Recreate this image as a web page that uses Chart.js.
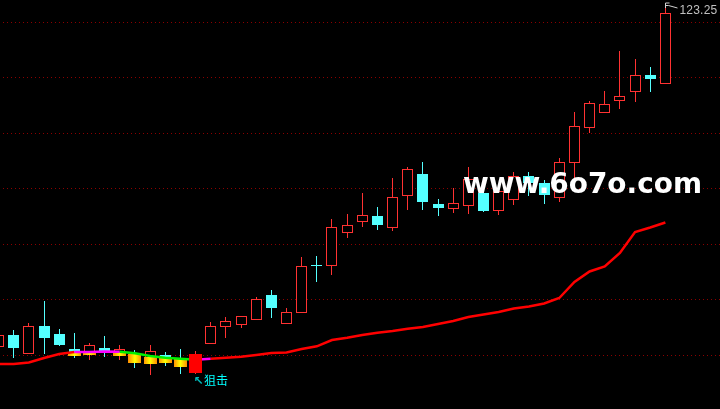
<!DOCTYPE html>
<html>
<head>
<meta charset="utf-8">
<style>
    html, body { margin: 0; padding: 0; background: #000; overflow: hidden; }
    canvas { display: block; }
</style>
<script src="https://cdn.jsdelivr.net/npm/chart.js@4"></script>
</head>
<body>
<canvas id="kline" width="720" height="409"></canvas>
<script>
const days = [-1,0,1,2,3,4,5,6,7,8,9,10,11,12,13,14,15,16,17,18,19,20,21,22,23,24,25,26,27,28,29,30,31,32,33,34,35,36,37,38,39,40,41,42,43];
const opens = [23.05,26.65,20.95,29.35,26.95,22.45,20.95,22.75,20.95,21.25,18.25,20.65,19.45,15.25,23.95,29.05,29.65,31.15,38.65,29.95,33.25,47.65,47.35,57.25,60.55,62.35,58.75,68.35,74.95,65.95,64.45,65.35,69.25,63.85,67.15,74.35,72.25,67.75,78.25,88.75,93.25,96.85,99.55,104.65,101.95];
const closes = [26.65,22.75,29.35,25.75,23.65,20.65,23.65,21.55,22.45,18.55,21.85,18.55,17.05,20.95,29.35,30.85,32.35,37.45,34.75,33.55,47.35,47.35,59.05,59.65,62.65,59.65,68.05,76.45,66.55,64.75,66.25,73.45,63.85,69.85,74.35,72.25,68.65,78.55,89.35,96.25,95.95,98.35,104.65,103.45,123.25];
const highs = [28.15,28.15,30.25,36.85,28.45,27.25,24.25,26.35,23.65,22.15,23.65,21.55,22.45,21.85,30.55,32.05,32.35,38.05,40.15,34.75,50.05,50.35,61.45,62.95,69.25,65.05,73.75,77.05,78.55,67.45,70.75,77.05,71.05,71.35,75.55,75.55,73.15,79.75,93.55,96.85,99.85,111.85,109.45,107.05,124.75];
const lows = [21.55,19.75,20.95,20.95,23.35,19.75,19.15,20.05,19.15,16.75,14.65,17.35,14.95,14.95,23.95,25.75,28.75,31.15,31.75,29.95,33.25,42.55,44.65,55.75,59.05,58.15,57.85,64.15,64.15,62.35,63.25,62.95,63.55,62.65,65.65,68.35,65.95,66.55,73.45,87.25,93.25,94.45,96.55,99.55,101.95];
const maLine = [17.95,17.95,18.4,19.75,20.95,21.55,21.55,21.7,21.64,21.16,20.35,19.84,19.54,19.24,19.54,19.84,20.14,20.65,21.25,21.4,22.45,23.26,25.15,25.84,26.65,27.34,27.85,28.54,29.05,29.95,30.85,32.05,32.8,33.55,34.6,35.2,36.1,37.75,42.55,45.7,47.2,51.25,57.55,58.9,60.4];

const glowDays = [4,5,6,7,8,9,10,11];
const glowTops = [21.55,21.55,21.85,21.55,20.95,20.05,19.75,19.45];
const glowBottoms = [20.35,20.65,21.25,20.35,18.25,17.95,18.25,17.05];
const solidDays = [12];
const magentaDays = [4,5,6,12];
const greenDays = [7,8,9,10,11];
const gridPrices = [120.55,103.9,87.25,70.6,53.95,37.3,20.65];

const lastPriceLabel = "123.25";
const signalLabel = "狙击";
const watermark = "www.6o7o.com";

const RED = "#ff3232";
const CYAN = "#54ffff";

function isRegular(i) {
    return !solidDays.includes(days[i]);
}

const wicks = days.map((d, i) => ({ x: d, y: [lows[i], highs[i]] }));
const wickColors = days.map((d, i) => closes[i] >= opens[i] ? RED : CYAN);
const upBodies = days.map((d, i) => ({ x: d, y: [opens[i], closes[i]] })).filter((b, i) => closes[i] >= opens[i] && isRegular(i));
const downBodies = days.map((d, i) => ({ x: d, y: [opens[i], closes[i]] })).filter((b, i) => closes[i] < opens[i] && isRegular(i));
const solidBodies = days.map((d, i) => ({ x: d, y: [opens[i], closes[i]] })).filter((b, i) => !isRegular(i));
const glowBars = glowDays.map((d, i) => ({ x: d, y: [glowBottoms[i], glowTops[i]] }));

function glowFill(context) {
    const chart = context.chart;
    if (!chart.chartArea || !context.parsed) return "#ffc000";
    const cx = chart.scales.x.getPixelForValue(context.parsed.x);
    const g = chart.ctx.createLinearGradient(cx - 6.5, 0, cx + 6.5, 0);
    g.addColorStop(0, "#ff9000");
    g.addColorStop(0.5, "#ffff00");
    g.addColorStop(1, "#ff9000");
    return g;
}

// keep the bars on whole pixels, the reference is not antialiased
const snapBars = {
    id: "snapBars",
    beforeDatasetsDraw(chart) {
        chart.getSortedVisibleDatasetMetas().forEach(meta => {
            if (meta.type !== "bar") return;
            meta.data.forEach(el => {
                el.x = Math.floor(el.x) + 0.5;
                el.y = Math.round(el.y);
                el.base = Math.round(el.base);
            });
        });
    }
};

const labels = {
    id: "labels",
    afterDraw(chart) {
        const ctx = chart.ctx;
        const x = chart.scales.x;
        const y = chart.scales.y;
        const last = days.length - 1;
        const topX = Math.floor(x.getPixelForValue(days[last])) + 0.5;
        const topY = y.getPixelForValue(highs[last]);

        ctx.save();
        // flag on the last high
        ctx.strokeStyle = "#d0d0d0";
        ctx.lineWidth = 1;
        ctx.beginPath();
        ctx.moveTo(topX, topY);
        ctx.lineTo(topX, topY - 5);
        ctx.lineTo(topX + 4, topY - 5);
        ctx.moveTo(topX, topY - 2.5);
        ctx.lineTo(topX + 3, topY - 2.5);
        ctx.lineTo(topX + 12, topY);
        ctx.stroke();

        ctx.fillStyle = "#c0c0c0";
        ctx.font = "12px 'Liberation Sans'";
        ctx.letterSpacing = "0.2px";
        ctx.textBaseline = "alphabetic";
        ctx.fillText(lastPriceLabel, topX + 14, topY + 6);
        ctx.letterSpacing = "0px";

        // signal under the solid candle
        const sigI = days.indexOf(solidDays[0]);
        const sigX = x.getPixelForValue(solidDays[0]);
        const sigY = y.getPixelForValue(lows[sigI]);
        ctx.fillStyle = "#00b8b8";
        ctx.font = "bold 12px 'DejaVu Sans'";
        ctx.fillText("↖", sigX - 2, sigY + 11);
        ctx.fillStyle = "#00ffff";
        ctx.font = "12px 'Noto Sans CJK SC'";
        ctx.fillText(signalLabel, sigX + 8.5, sigY + 11);

        ctx.fillStyle = "#ffffff";
        ctx.font = "bold 29px 'DejaVu Sans'";
        ctx.fillText(watermark, 463, 193, 239);
        ctx.restore();
    }
};

document.addEventListener("DOMContentLoaded", function() {
    const kline = document.getElementById("kline").getContext("2d");

    new Chart(kline, {
        type: "bar",
        data: {
            datasets: [
                { order: 1, data: solidBodies, grouped: false, inflateAmount: 0, barThickness: 13, backgroundColor: "#ff0000" },
                {
                    order: 2, type: "line", data: days.map((d, i) => ({ x: d, y: maLine[i] })),
                    borderColor: "#ff0000", borderWidth: 2.5, pointRadius: 0, tension: 0,
                    segment: {
                        borderColor: c => {
                            const d = days[c.p0DataIndex];
                            if (magentaDays.includes(d)) return "#ff00ff";
                            if (greenDays.includes(d)) return "#00f000";
                            return "#ff0000";
                        }
                    }
                },
                { order: 3, data: glowBars, grouped: false, inflateAmount: 0, barThickness: 13, backgroundColor: glowFill },
                { order: 4, data: upBodies, grouped: false, inflateAmount: 0, barThickness: 11, backgroundColor: "#000", borderColor: RED, borderWidth: 1, borderSkipped: false },
                { order: 4, data: downBodies, grouped: false, inflateAmount: 0, barThickness: 11, backgroundColor: CYAN },
                { order: 5, data: wicks, grouped: false, inflateAmount: 0, barThickness: 1, backgroundColor: wickColors }
            ]
        },
        options: {
            responsive: false,
            animation: false,
            devicePixelRatio: 1,
            layout: { padding: 0 },
            plugins: { legend: { display: false }, tooltip: { enabled: false } },
            scales: {
                x: { type: "linear", display: false, offset: false, min: -0.904, max: 46.605 },
                y: {
                    min: 4.45,
                    max: 127.15,
                    afterBuildTicks: axis => { axis.ticks = gridPrices.map(v => ({ value: v })); },
                    afterFit: axis => { axis.width = 0; },
                    ticks: { display: false },
                    border: { display: false, dash: [1, 3], dashOffset: 1 },
                    grid: { color: "#8c0000", lineWidth: 1, drawTicks: false }
                }
            }
        },
        plugins: [snapBars, labels]
    });
});
</script>
</body>
</html>
